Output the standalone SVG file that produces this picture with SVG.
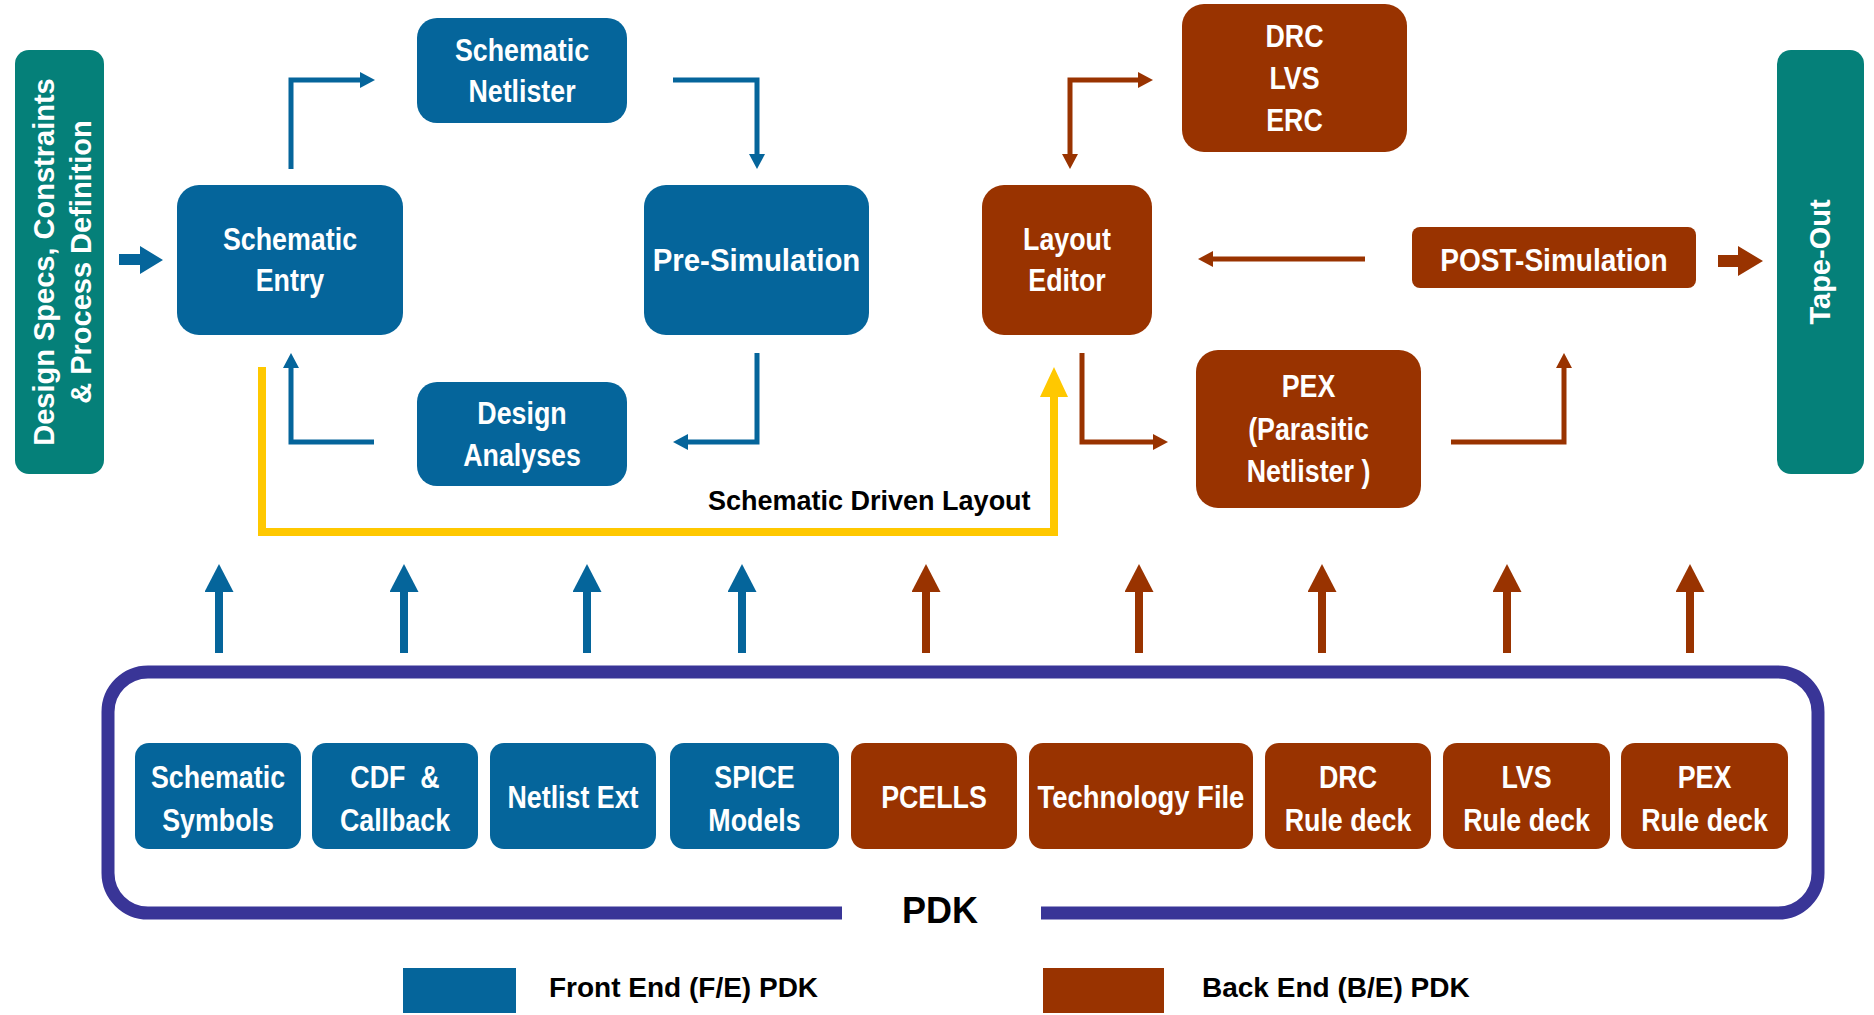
<svg xmlns="http://www.w3.org/2000/svg" width="1874" height="1015" viewBox="0 0 1874 1015">
<style>
.bg{fill:#ffffff}
.fe{fill:#05659B}
.be{fill:#993300}
.teal{fill:#058079}
.bt{font-family:"Liberation Sans",Arial,sans-serif;font-weight:bold;font-size:31px;fill:#ffffff;text-anchor:middle}
.vt{font-family:"Liberation Sans",Arial,sans-serif;font-weight:bold;font-size:29px;fill:#ffffff;text-anchor:middle}
.kt{font-family:"Liberation Sans",Arial,sans-serif;font-weight:bold;fill:#000000}
.lb{fill:none;stroke:#05659B;stroke-width:5;stroke-linejoin:miter}
.lr{fill:none;stroke:#993300;stroke-width:5;stroke-linejoin:miter}
.pb{fill:none;stroke:#05659B;stroke-width:8}
.pr{fill:none;stroke:#993300;stroke-width:8}
.ly{fill:none;stroke:#FFC800;stroke-width:8;stroke-linejoin:miter}
.frame{fill:none;stroke:#393597;stroke-width:13}
</style>
<defs>
<marker id="hb" markerUnits="userSpaceOnUse" markerWidth="16" markerHeight="16" refX="0" refY="8" orient="auto"><path d="M0,0 L15,8 L0,16 z" fill="#05659B"/></marker>
<marker id="hr" markerUnits="userSpaceOnUse" markerWidth="16" markerHeight="16" refX="0" refY="8" orient="auto-start-reverse"><path d="M0,0 L15,8 L0,16 z" fill="#993300"/></marker>
<marker id="pbh" markerUnits="userSpaceOnUse" markerWidth="30" markerHeight="30" refX="0" refY="14.5" orient="auto"><path d="M0,0 L28,14.5 L0,29 z" fill="#05659B"/></marker>
<marker id="prh" markerUnits="userSpaceOnUse" markerWidth="30" markerHeight="30" refX="0" refY="14.5" orient="auto"><path d="M0,0 L28,14.5 L0,29 z" fill="#993300"/></marker>
<marker id="yh" markerUnits="userSpaceOnUse" markerWidth="32" markerHeight="30" refX="0" refY="14" orient="auto"><path d="M0,0 L30,14 L0,28 z" fill="#FFC800"/></marker>
</defs>
<rect class="bg" x="0" y="0" width="1874" height="1015"/>

<g id="connectors">
  <path class="ly" d="M262,367 V532 H1054 V397" marker-end="url(#yh)"/>
  <path class="lb" d="M291,169 V80 H360" marker-end="url(#hb)"/>
  <path class="lb" d="M673,80 H757 V154" marker-end="url(#hb)"/>
  <path class="lb" d="M757,353 V442 H688" marker-end="url(#hb)"/>
  <path class="lb" d="M374,442 H291 V368" marker-end="url(#hb)"/>
  <path class="lr" d="M1070,154 V80 H1138" marker-start="url(#hr)" marker-end="url(#hr)"/>
  <path class="lr" d="M1365,259 H1213" marker-end="url(#hr)"/>
  <path class="lr" d="M1082,353 V442 H1153" marker-end="url(#hr)"/>
  <path class="lr" d="M1451,442 H1564 V368" marker-end="url(#hr)"/>
  <polygon class="fe" points="119,254 140,254 140,246 163,260 140,274 140,265 119,265"/>
  <polygon class="be" points="1718,255 1738,255 1738,246 1763,261 1738,276 1738,267 1718,267"/>
  <path class="pb" d="M219,653 V592" marker-end="url(#pbh)"/>
  <path class="pb" d="M404,653 V592" marker-end="url(#pbh)"/>
  <path class="pb" d="M587,653 V592" marker-end="url(#pbh)"/>
  <path class="pb" d="M742,653 V592" marker-end="url(#pbh)"/>
  <path class="pr" d="M926,653 V592" marker-end="url(#prh)"/>
  <path class="pr" d="M1139,653 V592" marker-end="url(#prh)"/>
  <path class="pr" d="M1322,653 V592" marker-end="url(#prh)"/>
  <path class="pr" d="M1507,653 V592" marker-end="url(#prh)"/>
  <path class="pr" d="M1690,653 V592" marker-end="url(#prh)"/>
  <text class="kt" x="708" y="510" font-size="27">Schematic Driven Layout</text>
</g>

<g id="design-specs">
  <rect class="teal" x="15" y="50" width="89" height="424" rx="14"/>
  <text class="vt" transform="translate(54,262) rotate(-90)" x="0" y="0">Design Specs, Constraints</text>
  <text class="vt" transform="translate(91,262) rotate(-90)" x="0" y="0">&amp; Process Definition</text>
</g>
<g id="tape-out">
  <rect class="teal" x="1777" y="50" width="87" height="424" rx="14"/>
  <text class="vt" transform="translate(1830,262) rotate(-90)" x="0" y="0">Tape-Out</text>
</g>

<g id="schematic-entry">
  <rect class="fe" x="177" y="185" width="226" height="150" rx="22"/>
  <text class="bt" transform="translate(290,0) scale(0.865,1)" y="250">Schematic</text>
  <text class="bt" transform="translate(290,0) scale(0.865,1)" y="291">Entry</text>
</g>
<g id="schematic-netlister">
  <rect class="fe" x="417" y="18" width="210" height="105" rx="20"/>
  <text class="bt" transform="translate(522,0) scale(0.865,1)" y="61">Schematic</text>
  <text class="bt" transform="translate(522,0) scale(0.865,1)" y="102">Netlister</text>
</g>
<g id="pre-simulation">
  <rect class="fe" x="644" y="185" width="225" height="150" rx="22"/>
  <text class="bt" transform="translate(756.5,0) scale(0.95,1)" y="271">Pre-Simulation</text>
</g>
<g id="design-analyses">
  <rect class="fe" x="417" y="382" width="210" height="104" rx="20"/>
  <text class="bt" transform="translate(522,0) scale(0.865,1)" y="424">Design</text>
  <text class="bt" transform="translate(522,0) scale(0.865,1)" y="466">Analyses</text>
</g>

<g id="drc-lvs-erc">
  <rect class="be" x="1182" y="4" width="225" height="148" rx="22"/>
  <text class="bt" transform="translate(1294.5,0) scale(0.865,1)" y="47">DRC</text>
  <text class="bt" transform="translate(1294.5,0) scale(0.865,1)" y="89">LVS</text>
  <text class="bt" transform="translate(1294.5,0) scale(0.865,1)" y="131">ERC</text>
</g>
<g id="layout-editor">
  <rect class="be" x="982" y="185" width="170" height="150" rx="22"/>
  <text class="bt" transform="translate(1067,0) scale(0.865,1)" y="250">Layout</text>
  <text class="bt" transform="translate(1067,0) scale(0.865,1)" y="291">Editor</text>
</g>
<g id="post-simulation">
  <rect class="be" x="1412" y="227" width="284" height="61" rx="8"/>
  <text class="bt" transform="translate(1554,0) scale(0.905,1)" y="271">POST-Simulation</text>
</g>
<g id="pex">
  <rect class="be" x="1196" y="350" width="225" height="158" rx="22"/>
  <text class="bt" transform="translate(1308.5,0) scale(0.865,1)" y="397">PEX</text>
  <text class="bt" transform="translate(1308.5,0) scale(0.865,1)" y="440">(Parasitic</text>
  <text class="bt" transform="translate(1308.5,0) scale(0.865,1)" y="482">Netlister )</text>
</g>

<g id="pdk">
  <path class="frame" d="M842,913 H148 A40,40 0 0 1 108,873 V712 A40,40 0 0 1 148,672 H1778 A40,40 0 0 1 1818,712 V873 A40,40 0 0 1 1778,913 H1041"/>
  <text class="kt" x="940" y="923" font-size="36" text-anchor="middle">PDK</text>
</g>

<g id="pdk-schematic-symbols">
  <rect class="fe" x="135" y="743" width="166" height="106" rx="14"/>
  <text class="bt" transform="translate(218,0) scale(0.865,1)" y="788">Schematic</text>
  <text class="bt" transform="translate(218,0) scale(0.865,1)" y="831">Symbols</text>
</g>
<g id="pdk-cdf-callback">
  <rect class="fe" x="312" y="743" width="166" height="106" rx="14"/>
  <text class="bt" transform="translate(395,0) scale(0.865,1)" y="788" xml:space="preserve">CDF  &amp;</text>
  <text class="bt" transform="translate(395,0) scale(0.865,1)" y="831">Callback</text>
</g>
<g id="pdk-netlist-ext">
  <rect class="fe" x="490" y="743" width="166" height="106" rx="14"/>
  <text class="bt" transform="translate(573,0) scale(0.865,1)" y="808">Netlist Ext</text>
</g>
<g id="pdk-spice-models">
  <rect class="fe" x="670" y="743" width="169" height="106" rx="14"/>
  <text class="bt" transform="translate(754.5,0) scale(0.865,1)" y="788">SPICE</text>
  <text class="bt" transform="translate(754.5,0) scale(0.865,1)" y="831">Models</text>
</g>
<g id="pdk-pcells">
  <rect class="be" x="851" y="743" width="166" height="106" rx="14"/>
  <text class="bt" transform="translate(934,0) scale(0.865,1)" y="808">PCELLS</text>
</g>
<g id="pdk-technology-file">
  <rect class="be" x="1029" y="743" width="224" height="106" rx="14"/>
  <text class="bt" transform="translate(1141,0) scale(0.885,1)" y="808">Technology File</text>
</g>
<g id="pdk-drc-rule-deck">
  <rect class="be" x="1265" y="743" width="166" height="106" rx="14"/>
  <text class="bt" transform="translate(1348,0) scale(0.865,1)" y="788">DRC</text>
  <text class="bt" transform="translate(1348,0) scale(0.865,1)" y="831">Rule deck</text>
</g>
<g id="pdk-lvs-rule-deck">
  <rect class="be" x="1443" y="743" width="167" height="106" rx="14"/>
  <text class="bt" transform="translate(1526.5,0) scale(0.865,1)" y="788">LVS</text>
  <text class="bt" transform="translate(1526.5,0) scale(0.865,1)" y="831">Rule deck</text>
</g>
<g id="pdk-pex-rule-deck">
  <rect class="be" x="1621" y="743" width="167" height="106" rx="14"/>
  <text class="bt" transform="translate(1704.5,0) scale(0.865,1)" y="788">PEX</text>
  <text class="bt" transform="translate(1704.5,0) scale(0.865,1)" y="831">Rule deck</text>
</g>

<g id="legend">
  <rect class="fe" x="403" y="968" width="113" height="45"/>
  <text class="kt" x="549" y="997" font-size="28">Front End (F/E) PDK</text>
  <rect class="be" x="1043" y="968" width="121" height="45"/>
  <text class="kt" x="1202" y="997" font-size="28">Back End (B/E) PDK</text>
</g>
</svg>
